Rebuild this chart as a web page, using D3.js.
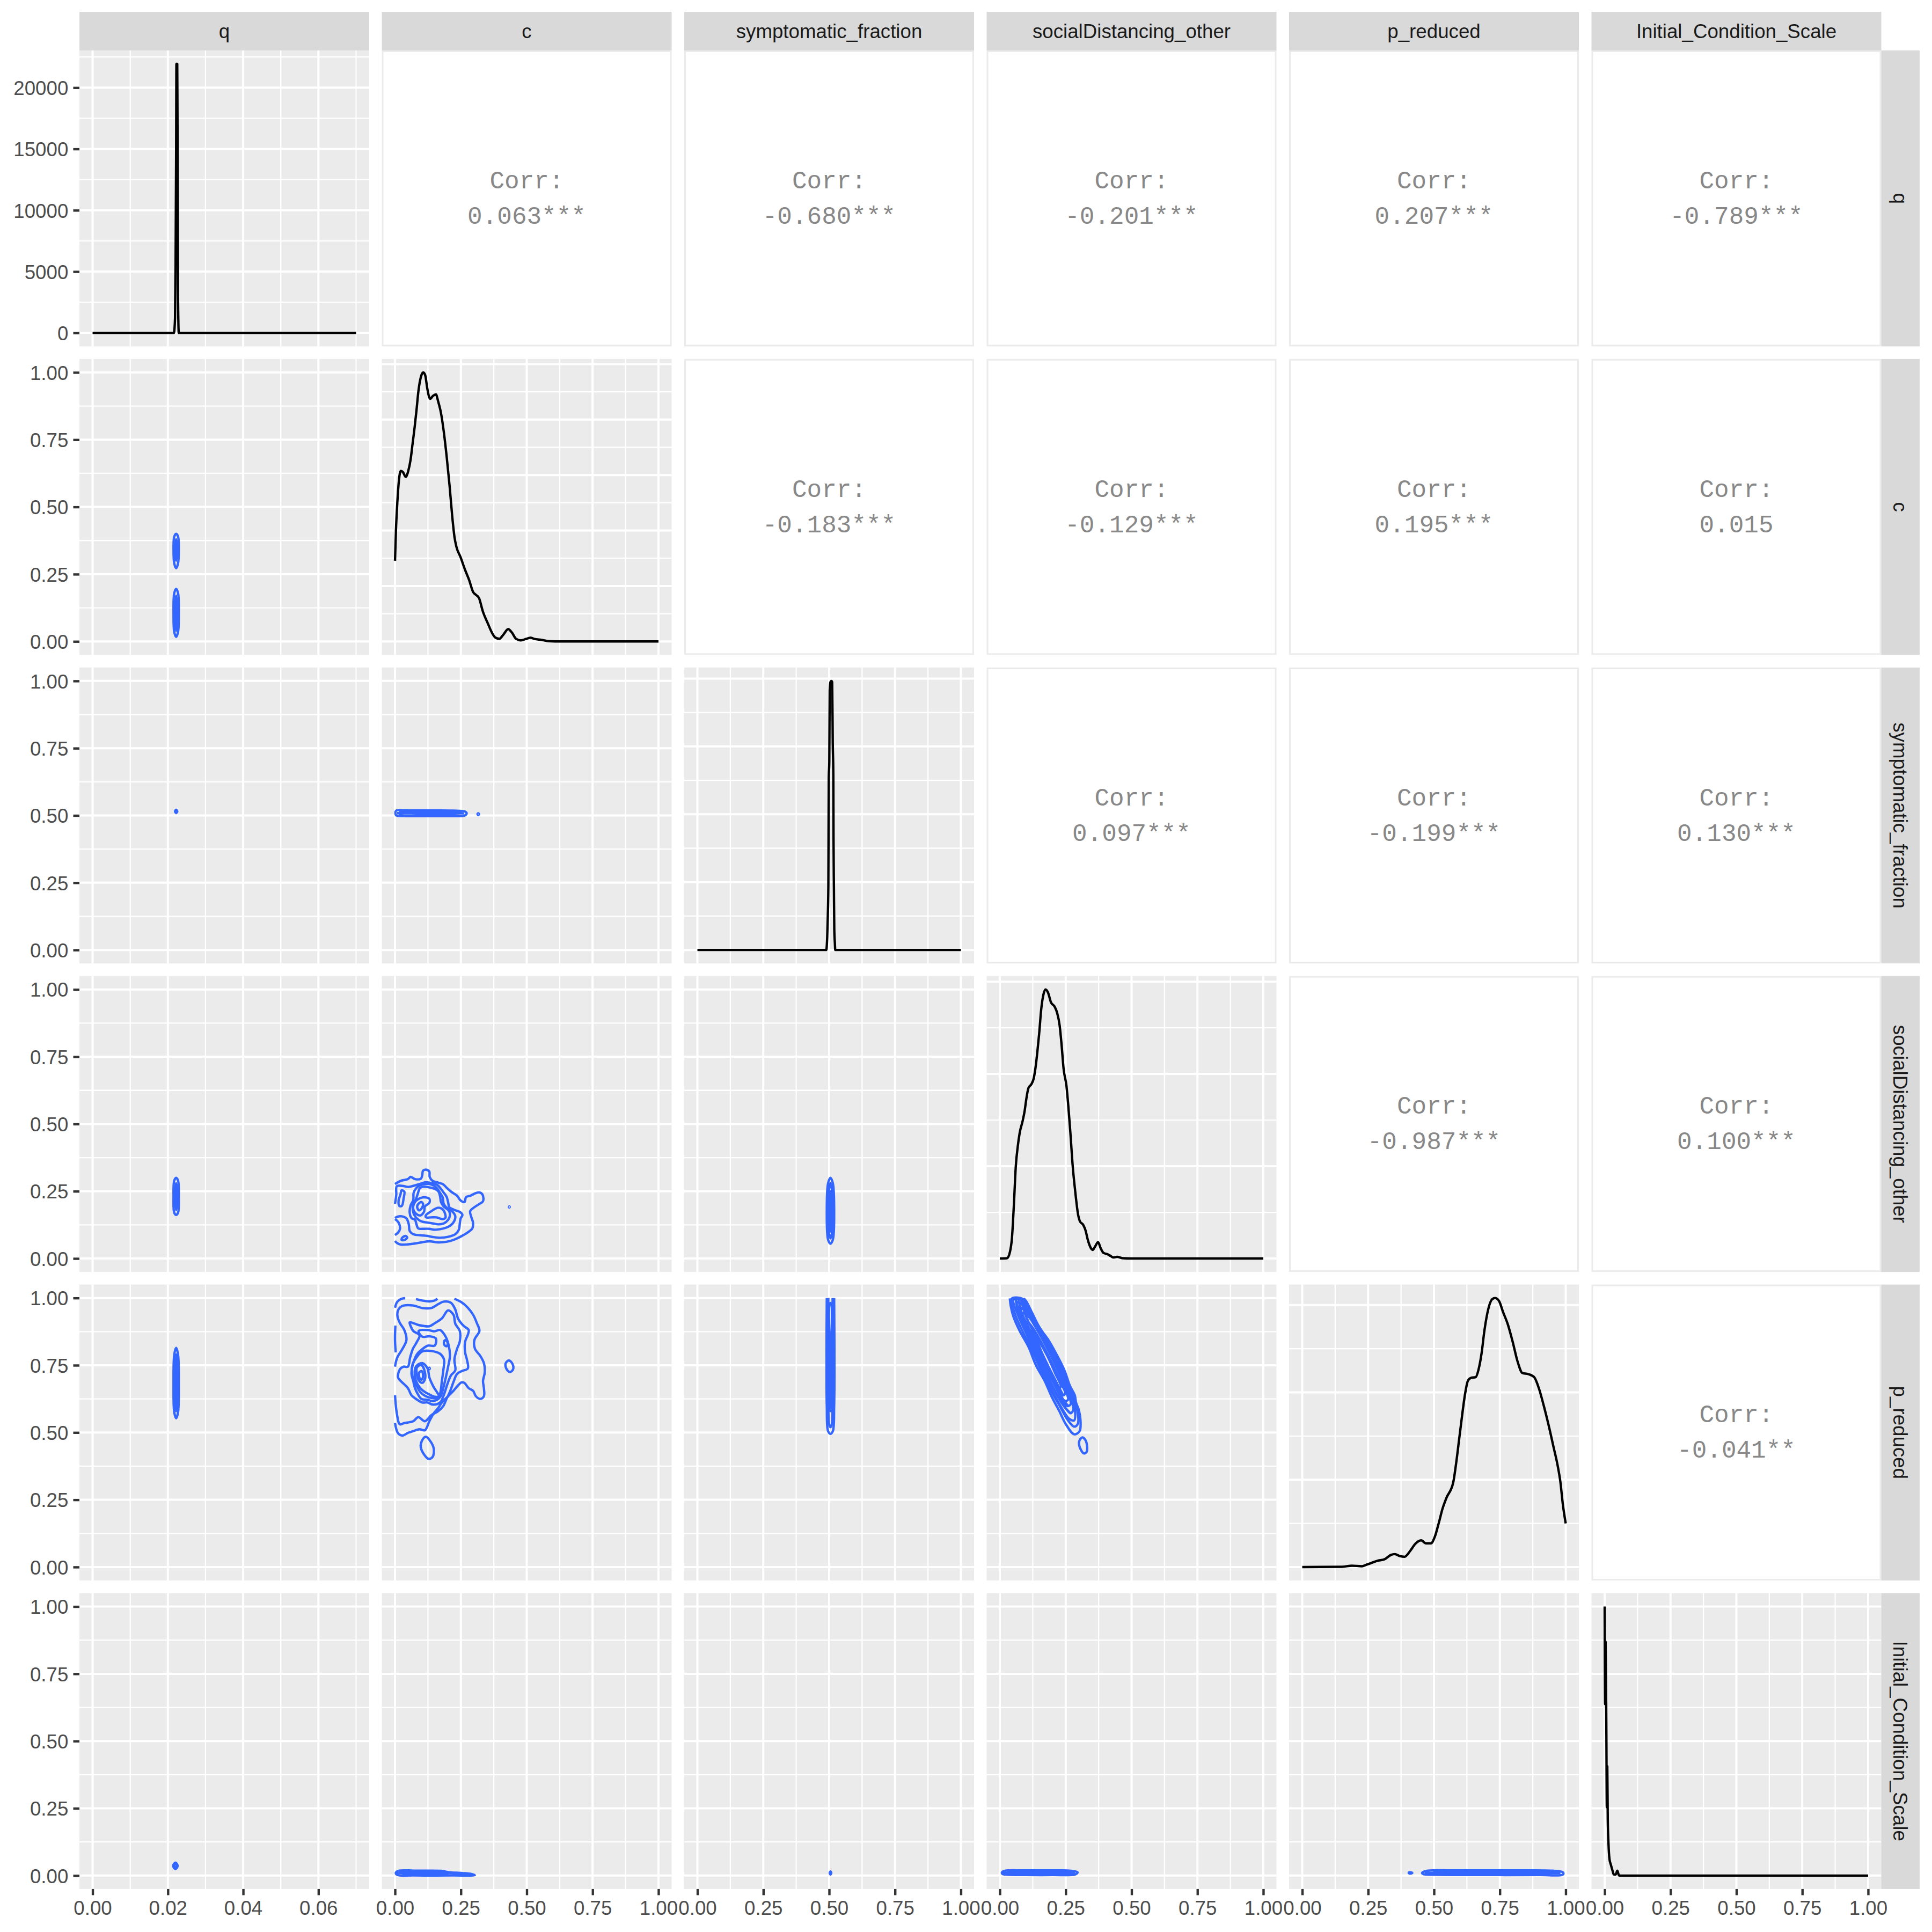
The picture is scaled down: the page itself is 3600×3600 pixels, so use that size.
<!DOCTYPE html>
<html><head><meta charset="utf-8">
<script src="https://cdn.jsdelivr.net/npm/d3@7"></script>
<style>body{margin:0;background:#fff}</style>
</head><body>
<script>
// ---------------- DATA ----------------
const variables = ["q","c","symptomatic_fraction","socialDistancing_other","p_reduced","Initial_Condition_Scale"];
const xDomains = [[0,0.07],[0,1],[0,1],[0,1],[0,1],[0,1]];
const xBreaks = [[0,0.02,0.04,0.06],[0,0.25,0.5,0.75,1],[0,0.25,0.5,0.75,1],[0,0.25,0.5,0.75,1],[0,0.25,0.5,0.75,1],[0,0.25,0.5,0.75,1]];
const xTickLabels = [["0.00","0.02","0.04","0.06"],["0.00","0.25","0.50","0.75","1.00"],["0.00","0.25","0.50","0.75","1.00"],["0.00","0.25","0.50","0.75","1.00"],["0.00","0.25","0.50","0.75","1.00"],["0.00","0.25","0.50","0.75","1.00"]];
const row1TickValues = [0,5000,10000,15000,20000];
const row1TickLabels = ["0","5000","10000","15000","20000"];

// diagonal density: maximum and own y breaks
const diagMax = [21936, 4.85, 79.3, 5.83, 3.08, 40];
const diagBreaks = [[0,5000,10000,15000,20000],[0,1,2,3,4,5],[0,20,40,60,80],[0,2,4,6],[0,1,2,3],[0,10,20,30,40]];

// q density (absolute)
const densQx = [0,0.0216,0.0219,0.02205,0.0222,0.02227,0.02249,0.02255,0.02263,0.0227,0.0229,0.07];
const densQy = [0,0,1171,5670,15000,21936,21936,18000,11140,3000,0,0];
// other densities (relative to max)
const densCx = [0,.0037,.0089,.0148,.0222,.0296,.0407,.0504,.0593,.0667,.0741,.0815,.0889,.1,.1074,.1148,.1222,.1333,.1444,.1556,.1630,.1741,.1852,.1963,.2074,.2170,.2259,.2333,.2481,.2667,.2815,.2963,.3074,.3185,.3333,.3519,.3704,.3815,.3963,.4111,.4296,.4444,.4593,.4778,.4963,.5148,.5296,.5556,.5852,.6296,1.0];
const densCh = [.300,.416,.518,.598,.634,.630,.612,.634,.677,.735,.793,.859,.931,.989,1.0,.989,.942,.902,.913,.918,.895,.851,.779,.685,.576,.467,.387,.351,.315,.264,.228,.184,.173,.162,.112,.068,.028,.014,.010,.025,.046,.032,.010,.004,.009,.014,.009,.006,.001,0,0];
const densSx = [0,.4890,.4926,.4948,.4970,.4985,.5006,.5021,.5050,.5086,.5115,.5137,.5159,.5166,.5181,.5195,.5217,.5232,1];
const densSh = [0,0,.048,.122,.24,.64,.70,.965,.996,1,.996,.77,.65,.42,.23,.076,.026,0,0];
const densSDx = [0,.0274,.0385,.0459,.0533,.0607,.0680,.0754,.0865,.0939,.1013,.1087,.1198,.1287,.1361,.1420,.1494,.1568,.1657,.1731,.1827,.1938,.2086,.2175,.2271,.2345,.2419,.2530,.2604,.2678,.2766,.2862,.2973,.3047,.3158,.3254,.3343,.3454,.3528,.3624,.3728,.3824,.3935,.4083,.4194,.4305,.4453,.4675,.4970,1];
const densSDh = [0,.001,.025,.075,.199,.344,.416,.467,.511,.547,.598,.634,.648,.670,.714,.764,.837,.924,.982,1.0,.989,.953,.935,.913,.866,.793,.706,.641,.561,.467,.344,.249,.162,.137,.126,.104,.068,.039,.032,.046,.061,.039,.021,.016,.010,.004,.006,.001,0,0];
const densPx = [0,.1516,.1886,.2256,.2478,.2848,.3144,.3365,.3513,.3698,.3883,.4105,.4290,.4512,.4697,.4882,.5030,.5178,.5325,.5473,.5732,.5843,.5954,.6065,.6176,.6287,.6398,.6583,.6694,.6805,.6916,.7064,.7212,.7322,.7470,.7618,.7803,.7988,.8173,.8358,.8580,.8802,.8987,.9172,.9357,.9541,.9689,.9800,.9889,1.0];
const densPh = [0,.001,.005,.003,.010,.023,.030,.045,.048,.041,.038,.061,.086,.099,.088,.088,.112,.162,.217,.257,.315,.387,.474,.561,.641,.692,.703,.706,.735,.793,.880,.960,.996,1.0,.989,.949,.902,.837,.764,.721,.717,.706,.663,.598,.525,.445,.380,.315,.235,.162];
const densIx = [0,.0018,.0036,.0064,.0082,.0100,.0118,.0145,.0182,.0236,.0300,.0345,.0418,.0482,.0545,1];
const densIh = [1.0,.637,.869,.548,.254,.406,.209,.120,.062,.040,.018,.004,.004,.018,0,0];

// correlations (upper panels)
const corrRows = [0,0,0,0,0,1,1,1,1,2,2,2,3,3,4];
const corrCols = [1,2,3,4,5,2,3,4,5,3,4,5,4,5,5];
const corrText = ["0.063***","-0.680***","-0.201***","0.207***","-0.789***","-0.183***","-0.129***","0.195***","0.015","0.097***","-0.199***","0.130***","-0.987***","0.100***","-0.041**"];

// 2-D density contours (lower panels), [x, y] in data units; c = closed ring
const contQC = [
 {c:true, p:[[0.0222,0.40],[0.0227,0.39],[0.0229,0.34],[0.0227,0.29],[0.0222,0.272],[0.0217,0.29],[0.0215,0.34],[0.0217,0.39]]},
 {c:true, p:[[0.0222,0.38],[0.0224,0.36],[0.0224,0.32],[0.0222,0.30],[0.0220,0.32],[0.0220,0.36]]},
 {c:true, p:[[0.0222,0.195],[0.0227,0.18],[0.0229,0.10],[0.0227,0.035],[0.0222,0.017],[0.0217,0.035],[0.0215,0.10],[0.0217,0.18]]},
 {c:true, p:[[0.0222,0.17],[0.0224,0.14],[0.0224,0.06],[0.0222,0.04],[0.0220,0.06],[0.0220,0.14]]}
];
const contQS = [
 {c:true, p:[[0.0222,0.521],[0.0225,0.515],[0.0222,0.509],[0.0219,0.515]]}
];
const contCS = [
 {c:true, p:[[0.004,0.5175],[0.05,0.5185],[0.15,0.5185],[0.22,0.518],[0.265,0.515],[0.272,0.508],[0.265,0.5],[0.2,0.4975],[0.1,0.4975],[0.03,0.498],[0.004,0.501]]},
 {c:true, p:[[0.02,0.514],[0.1,0.515],[0.2,0.514],[0.25,0.511],[0.2,0.502],[0.1,0.501],[0.02,0.503]]},
 {c:false, p:[[0.008,0.5085],[0.1,0.5085],[0.2,0.508],[0.262,0.508]]},
 {c:true, p:[[0.316,0.508],[0.319,0.505],[0.316,0.502],[0.313,0.505]]}
];
const contQSD = [
 {c:true, p:[[0.0222,0.30],[0.0227,0.29],[0.0229,0.23],[0.0227,0.17],[0.0222,0.162],[0.0217,0.17],[0.0215,0.23],[0.0217,0.29]]},
 {c:true, p:[[0.0222,0.28],[0.0224,0.26],[0.0224,0.20],[0.0222,0.18],[0.0220,0.20],[0.0220,0.26]]}
];
const contCSD = [
 {c:false, p:[[0,0.2766],[0.0217,0.2886],[0.0489,0.2952],[0.0591,0.3032],[0.0760,0.2952],[0.0978,0.2965],[0.1032,0.3085],[0.1066,0.3265],[0.1202,0.3298],[0.1303,0.3231],[0.1317,0.3032],[0.1426,0.2886],[0.1643,0.2819],[0.1833,0.2753],[0.1969,0.2620],[0.2152,0.2467],[0.2356,0.2334],[0.2492,0.2154],[0.2641,0.2101],[0.2695,0.2281],[0.2865,0.2334],[0.3069,0.2434],[0.3218,0.2453],[0.3327,0.2367],[0.3340,0.2128],[0.3191,0.2021],[0.2987,0.1888],[0.2851,0.1755],[0.2892,0.1556],[0.2960,0.1336],[0.2933,0.1117],[0.2743,0.0957],[0.2512,0.0824],[0.2254,0.0705],[0.1982,0.0625],[0.1643,0.0598],[0.1303,0.0638],[0.1032,0.0605],[0.0760,0.0559],[0.0489,0.0525],[0.0217,0.0519],[0.0081,0.0572],[0,0.0652]]},
 {c:false, p:[[0,0.2035],[0.0048,0.2367],[0.0068,0.2686],[0.0285,0.2699],[0.0489,0.2660],[0.0692,0.2699],[0.0930,0.2766],[0.1134,0.2832],[0.1337,0.2812],[0.1609,0.2733],[0.1745,0.2580],[0.1860,0.2434],[0.1962,0.2287],[0.2016,0.2088],[0.2064,0.1902],[0.2267,0.1802],[0.2458,0.1735],[0.2559,0.1622],[0.2492,0.1489],[0.2458,0.1290],[0.2424,0.1070],[0.2288,0.0904],[0.2016,0.0805],[0.1711,0.0771],[0.1439,0.0798],[0.1236,0.0838],[0.0964,0.0864],[0.0692,0.0904],[0.0557,0.1024],[0.0523,0.1270],[0.0434,0.1489],[0.0251,0.1569],[0.0095,0.1556],[0,0.1503]]},
 {c:false, p:[[0,0.1469],[0.0136,0.1336],[0.0190,0.1104],[0.0122,0.0971],[0,0.0871]]},
 {c:true, p:[[0.0930,0.2713],[0.1303,0.2766],[0.1575,0.2633],[0.1711,0.2434],[0.1813,0.2267],[0.1847,0.2035],[0.1982,0.1868],[0.2186,0.1735],[0.2288,0.1569],[0.2254,0.1403],[0.2118,0.1237],[0.1915,0.1137],[0.1711,0.1090],[0.1507,0.1070],[0.1303,0.1104],[0.1100,0.1104],[0.0883,0.1117],[0.0815,0.1270],[0.0760,0.1436],[0.0625,0.1503],[0.0557,0.1702],[0.0591,0.1968],[0.0692,0.2168],[0.0706,0.2434],[0.0794,0.2600]]},
 {c:true, p:[[0.0964,0.2633],[0.1371,0.2633],[0.1643,0.2500],[0.1711,0.2301],[0.1745,0.2101],[0.1847,0.1935],[0.2050,0.1769],[0.2084,0.1602],[0.2016,0.1436],[0.1847,0.1303],[0.1643,0.1270],[0.1439,0.1303],[0.1236,0.1336],[0.1032,0.1370],[0.0896,0.1436],[0.0760,0.1569],[0.0679,0.1769],[0.0692,0.2001],[0.0794,0.2201],[0.0862,0.2400]]},
 {c:true, p:[[0.0760,0.2101],[0.1032,0.2267],[0.1303,0.2221],[0.1303,0.2068],[0.1134,0.1935],[0.1100,0.1735],[0.0964,0.1602],[0.0794,0.1669],[0.0692,0.1835]]},
 {c:true, p:[[0.0862,0.2001],[0.0998,0.2101],[0.1066,0.2021],[0.1012,0.1868],[0.0910,0.1789],[0.0842,0.1902]]},
 {c:true, p:[[0.1168,0.1602],[0.1371,0.1755],[0.1643,0.1888],[0.1833,0.1802],[0.1915,0.1516],[0.1792,0.1463],[0.1575,0.1529],[0.1371,0.1529],[0.1181,0.1529]]},
 {c:true, p:[[0.0251,0.2533],[0.0353,0.2487],[0.0326,0.2234],[0.0258,0.1955],[0.0163,0.1955],[0.0136,0.2154],[0.0204,0.2367]]},
 {c:true, p:[[0.0272,0.0771],[0.0407,0.0838],[0.0462,0.0771],[0.0353,0.0685],[0.0251,0.0691]]},
 {c:true, p:[[0.4338,0.1935],[0.4355,0.1915],[0.4338,0.1895],[0.4321,0.1915]]}
];
const contSSD = [
 {c:true, p:[[0.505,0.30],[0.514,0.28],[0.519,0.18],[0.514,0.07],[0.505,0.055],[0.496,0.07],[0.491,0.18],[0.496,0.28]]},
 {c:true, p:[[0.505,0.28],[0.510,0.26],[0.513,0.18],[0.510,0.09],[0.505,0.075],[0.500,0.09],[0.497,0.18],[0.500,0.26]]},
 {c:true, p:[[0.505,0.25],[0.507,0.20],[0.507,0.12],[0.505,0.10],[0.503,0.12],[0.503,0.20]]}
];
const contQP = [
 {c:true, p:[[0.0222,0.815],[0.0227,0.79],[0.0229,0.68],[0.0227,0.575],[0.0222,0.553],[0.0217,0.575],[0.0215,0.68],[0.0217,0.79]]},
 {c:true, p:[[0.0222,0.79],[0.0224,0.75],[0.0224,0.61],[0.0222,0.58],[0.0220,0.61],[0.0220,0.75]]}
];
const contCP = [
 {c:false, p:[[0.2254,0.9973],[0.2525,0.9840],[0.2763,0.9641],[0.2967,0.9375],[0.3103,0.9076],[0.3204,0.8777],[0.3014,0.8444],[0.3035,0.8112],[0.3238,0.7846],[0.3374,0.7580],[0.3408,0.7247],[0.3340,0.6915],[0.3374,0.6649],[0.3374,0.6350],[0.3238,0.6250],[0.3069,0.6350],[0.2967,0.6549],[0.2797,0.6649],[0.2627,0.6848],[0.2525,0.6862],[0.2390,0.6749],[0.2186,0.6516],[0.1982,0.6316],[0.1779,0.6117],[0.1643,0.5918],[0.1473,0.5718],[0.1303,0.5419],[0.1134,0.5086],[0.0930,0.5120],[0.0692,0.5053],[0.0489,0.4987],[0.0285,0.4887],[0.0115,0.4973],[0,0.5352]]},
 {c:false, p:[[0,0.9641],[0.0081,0.9854],[0.0217,0.9960],[0.0387,0.9993]]},
 {c:false, p:[[0.0794,0.9960],[0.1032,0.9907],[0.1303,0.9874],[0.1507,0.9907],[0.1609,0.9973]]},
 {c:false, p:[[0,0.7447],[0.0081,0.7779],[0.0285,0.8112],[0.0434,0.8444],[0.0353,0.8810],[0.0183,0.9076],[0.0095,0.9309],[0.0115,0.9541],[0.0285,0.9707],[0.0692,0.9721],[0.1032,0.9628],[0.1371,0.9628],[0.1643,0.9774],[0.1847,0.9867],[0.2118,0.9827],[0.2288,0.9574],[0.2390,0.9242],[0.2593,0.8976],[0.2797,0.8810],[0.2763,0.8630],[0.2661,0.8378],[0.2661,0.7979],[0.2729,0.7713],[0.2763,0.7380],[0.2525,0.7281],[0.2356,0.7181],[0.2220,0.6882],[0.2084,0.6516],[0.1948,0.6237],[0.1833,0.5984],[0.1643,0.5798],[0.1371,0.5638],[0.1134,0.5419],[0.0883,0.5572],[0.0692,0.5419],[0.0353,0.5352],[0.0183,0.5306],[0.0068,0.5718],[0,0.6383]]},
 {c:true, p:[[0.0557,0.9096],[0.0896,0.8996],[0.1303,0.8950],[0.1507,0.9063],[0.1779,0.9242],[0.2016,0.9541],[0.2220,0.9375],[0.2288,0.9043],[0.2458,0.8777],[0.2458,0.8378],[0.2356,0.8112],[0.2254,0.7713],[0.2288,0.7314],[0.2118,0.7114],[0.1982,0.6782],[0.1847,0.6383],[0.1711,0.6117],[0.1439,0.6037],[0.1236,0.6117],[0.1032,0.6117],[0.0794,0.6250],[0.0625,0.6383],[0.0489,0.6649],[0.0217,0.6915],[0.0115,0.7048],[0.0183,0.7347],[0.0319,0.7447],[0.0489,0.7447],[0.0570,0.7779],[0.0679,0.8112],[0.0815,0.8344],[0.0930,0.8610],[0.0692,0.8777],[0.0591,0.8963]]},
 {c:true, p:[[0.0896,0.8777],[0.1236,0.8810],[0.1507,0.8763],[0.1711,0.8810],[0.1915,0.8577],[0.2037,0.8245],[0.2084,0.7846],[0.2016,0.7447],[0.1928,0.7048],[0.1847,0.6715],[0.1711,0.6316],[0.1453,0.6170],[0.1236,0.6217],[0.0998,0.6250],[0.0862,0.6436],[0.0760,0.6649],[0.0692,0.6915],[0.0625,0.7181],[0.0692,0.7580],[0.0828,0.7899],[0.1032,0.8098],[0.1249,0.8231],[0.1507,0.8231],[0.1548,0.8497],[0.1303,0.8577],[0.1032,0.8564]]},
 {c:true, p:[[0.0760,0.7713],[0.1032,0.8012],[0.1371,0.8032],[0.1711,0.7926],[0.1860,0.7713],[0.1833,0.7314],[0.1779,0.6915],[0.1711,0.6449],[0.1609,0.6290],[0.1405,0.6280],[0.1168,0.6350],[0.0964,0.6500],[0.0828,0.6716],[0.0706,0.6950],[0.0638,0.7247],[0.0659,0.7513]]},
 {c:true, p:[[0.0794,0.7447],[0.1032,0.7580],[0.1236,0.7380],[0.1303,0.7048],[0.1453,0.6715],[0.1657,0.6350],[0.1507,0.6330],[0.1236,0.6450],[0.1032,0.6580],[0.0862,0.6782],[0.0760,0.7048]]},
 {c:true, p:[[0.0828,0.7414],[0.0998,0.7513],[0.1134,0.7247],[0.1134,0.6981],[0.1032,0.6848],[0.0896,0.6948],[0.0828,0.7181]]},
 {c:true, p:[[0.0930,0.7247],[0.1018,0.7281],[0.1066,0.7114],[0.1018,0.6968],[0.0937,0.7015],[0.0910,0.7128]]},
 {c:true, p:[[0.1915,0.8431],[0.1996,0.8344],[0.1969,0.8211],[0.1881,0.8245],[0.1860,0.8378]]},
 {c:true, p:[[0.1303,0.7410],[0.1320,0.7380],[0.1303,0.7350],[0.1286,0.7380]]},
 {c:true, p:[[0.4325,0.7680],[0.4460,0.7547],[0.4481,0.7347],[0.4358,0.7247],[0.4223,0.7380],[0.4203,0.7580]]},
 {c:true, p:[[0.1168,0.4840],[0.1358,0.4654],[0.1473,0.4388],[0.1426,0.4089],[0.1270,0.4023],[0.1100,0.4189],[0.0978,0.4455],[0.1018,0.4687]]},
 {c:false, p:[[0.0014,0.8976],[0,0.8444],[0.0027,0.7979]]}
];
const contSP = [
 {c:false, p:[[0.491,1.0],[0.490,0.8],[0.491,0.6],[0.496,0.505],[0.505,0.495],[0.514,0.505],[0.519,0.6],[0.520,0.8],[0.519,1.0]]},
 {c:false, p:[[0.497,1.0],[0.496,0.8],[0.497,0.6],[0.500,0.53],[0.505,0.52],[0.510,0.53],[0.513,0.6],[0.514,0.8],[0.513,1.0]]},
 {c:true, p:[[0.503,0.98],[0.502,0.8],[0.503,0.62],[0.505,0.58],[0.507,0.62],[0.508,0.8],[0.507,0.98]]}
];
const contSDP = [
 {c:false, p:[[0.0380,0.9987],[0.0414,0.9707],[0.0516,0.9309],[0.0754,0.8777],[0.1093,0.8178],[0.1365,0.7513],[0.1704,0.6915],[0.1976,0.6316],[0.2247,0.5818],[0.2519,0.5286],[0.2824,0.4934],[0.3028,0.5053],[0.3062,0.5452],[0.2994,0.5851],[0.2892,0.6117],[0.2845,0.6383],[0.2655,0.6749],[0.2451,0.7314],[0.2111,0.7979],[0.1840,0.8444],[0.1500,0.8910],[0.1229,0.9441],[0.0991,0.9894],[0.0903,0.9987]]},
 {c:true, p:[[0.0448,0.9973],[0.0584,0.9375],[0.0889,0.8710],[0.1195,0.8112],[0.1466,0.7513],[0.1772,0.6915],[0.2043,0.6383],[0.2315,0.5918],[0.2587,0.5452],[0.2824,0.5219],[0.2960,0.5319],[0.2960,0.5718],[0.2845,0.6117],[0.2722,0.6516],[0.2519,0.7048],[0.2247,0.7646],[0.1976,0.8178],[0.1636,0.8710],[0.1297,0.9242],[0.1025,0.9774],[0.0855,0.9973]]},
 {c:true, p:[[0.0516,0.9940],[0.0686,0.9375],[0.0991,0.8710],[0.1297,0.8045],[0.1568,0.7447],[0.1840,0.6848],[0.2111,0.6316],[0.2383,0.5851],[0.2621,0.5519],[0.2824,0.5452],[0.2858,0.5785],[0.2790,0.6117],[0.2654,0.6516],[0.2451,0.7048],[0.2179,0.7646],[0.1874,0.8245],[0.1534,0.8777],[0.1195,0.9309],[0.0923,0.9807],[0.0788,0.9940]]},
 {c:true, p:[[0.0652,0.9840],[0.0821,0.9309],[0.1093,0.8710],[0.1399,0.8045],[0.1670,0.7447],[0.1942,0.6848],[0.2213,0.6316],[0.2485,0.5918],[0.2688,0.5718],[0.2790,0.5851],[0.2722,0.6184],[0.2553,0.6649],[0.2315,0.7247],[0.2043,0.7846],[0.1738,0.8444],[0.1399,0.8976],[0.1059,0.9508],[0.0788,0.9807]]},
 {c:true, p:[[0.0754,0.9641],[0.0923,0.9176],[0.1195,0.8644],[0.1500,0.7979],[0.1772,0.7380],[0.2043,0.6848],[0.2315,0.6316],[0.2553,0.5984],[0.2688,0.6051],[0.2621,0.6383],[0.2451,0.6782],[0.2213,0.7314],[0.1942,0.7912],[0.1636,0.8511],[0.1297,0.9043],[0.0991,0.9508]]},
 {c:true, p:[[0.0855,0.9441],[0.1059,0.8976],[0.1331,0.8444],[0.1636,0.7779],[0.1908,0.7181],[0.2179,0.6649],[0.2451,0.6184],[0.2587,0.6217],[0.2519,0.6516],[0.2315,0.7048],[0.2043,0.7646],[0.1738,0.8245],[0.1399,0.8843],[0.1093,0.9309]]},
 {c:true, p:[[0.0991,0.9109],[0.1229,0.8644],[0.1534,0.7979],[0.1840,0.7380],[0.2111,0.6848],[0.2383,0.6383],[0.2485,0.6449],[0.2315,0.6848],[0.2043,0.7447],[0.1704,0.8112],[0.1365,0.8710],[0.1127,0.9043]]},
 {c:true, p:[[0.1161,0.8777],[0.1432,0.8245],[0.1704,0.7646],[0.1976,0.7114],[0.2247,0.6649],[0.2315,0.6715],[0.2111,0.7181],[0.1806,0.7846],[0.1500,0.8378],[0.1263,0.8710]]},
 {c:false, p:[[0.060,0.995],[0.075,0.93],[0.105,0.87],[0.135,0.80],[0.165,0.74],[0.190,0.69],[0.220,0.635],[0.250,0.590],[0.270,0.570]]},
 {c:false, p:[[0.070,0.995],[0.088,0.93],[0.118,0.87],[0.147,0.80],[0.176,0.74],[0.202,0.69],[0.232,0.635],[0.258,0.600]]},
 {c:false, p:[[0.080,0.995],[0.100,0.93],[0.130,0.87],[0.158,0.80],[0.187,0.74],[0.213,0.69],[0.242,0.635]]},
 {c:true, p:[[0.3130,0.4820],[0.3266,0.4688],[0.3299,0.4289],[0.3198,0.4222],[0.3062,0.4388],[0.3008,0.4654]]}
];
const contQI = [
 {c:true, p:[[0.0220,0.048],[0.0226,0.036],[0.0220,0.024],[0.0214,0.036]]},
 {c:true, p:[[0.0220,0.040],[0.0222,0.036],[0.0220,0.032],[0.0218,0.036]]}
];
const contCI = [
 {c:true, p:[[0.003,0.010],[0.013,0.0175],[0.09,0.018],[0.175,0.0175],[0.205,0.0125],[0.255,0.0095],[0.29,0.006],[0.303,0.0015],[0.22,0.0005],[0.07,0.0005],[0.01,0.002]]},
 {c:true, p:[[0.02,0.012],[0.1,0.013],[0.17,0.012],[0.2,0.008],[0.15,0.005],[0.05,0.005]]},
 {c:false, p:[[0.006,0.009],[0.1,0.009],[0.2,0.009],[0.27,0.005]]}
];
const contSI = [
 {c:true, p:[[0.505,0.015],[0.508,0.0096],[0.505,0.004],[0.502,0.0096]]}
];
const contSDI = [
 {c:true, p:[[0.008,0.012],[0.02,0.018],[0.1,0.019],[0.2,0.019],[0.27,0.018],[0.295,0.012],[0.285,0.004],[0.2,0.002],[0.1,0.002],[0.03,0.003],[0.01,0.006]]},
 {c:true, p:[[0.03,0.012],[0.1,0.014],[0.2,0.014],[0.27,0.011],[0.2,0.007],[0.1,0.007],[0.04,0.008]]},
 {c:false, p:[[0.012,0.0095],[0.1,0.0105],[0.2,0.0105],[0.285,0.009]]}
];
const contPI = [
 {c:true, p:[[0.455,0.010],[0.47,0.017],[0.6,0.019],[0.8,0.019],[0.95,0.018],[0.99,0.012],[0.99,0.004],[0.9,0.002],[0.7,0.002],[0.5,0.003],[0.46,0.005]]},
 {c:true, p:[[0.5,0.012],[0.7,0.014],[0.9,0.014],[0.97,0.011],[0.9,0.007],[0.7,0.007],[0.52,0.008]]},
 {c:false, p:[[0.465,0.0095],[0.6,0.0105],[0.8,0.0105],[0.98,0.009]]},
 {c:true, p:[[0.41,0.012],[0.418,0.010],[0.41,0.007],[0.404,0.010]]}
];

// ---------------- LAYOUT ----------------
const PW = 540, PH = 551.4, GX = 23.5, GY = 23.5, LEFT = 148, TOP = 94;
const STRIP = 71.5;
const colLeft = j => LEFT + j * (PW + GX);
const rowTop = i => TOP + i * (PH + GY);
const SANS = "'Liberation Sans', Arial, Helvetica, sans-serif";
const MONO = "'Liberation Mono', 'Courier New', monospace";
const AXFS = 36.7;

const diagData = [
  {x: densQx, y: densQy, rel: false},
  {x: densCx, y: densCh, rel: true},
  {x: densSx, y: densSh, rel: true},
  {x: densSDx, y: densSDh, rel: true},
  {x: densPx, y: densPh, rel: true},
  {x: densIx, y: densIh, rel: true}
];
const lowerMap = {"1_0": contQC, "2_0": contQS, "2_1": contCS, "3_0": contQSD, "3_1": contCSD, "3_2": contSSD,
  "4_0": contQP, "4_1": contCP, "4_2": contSP, "4_3": contSDP,
  "5_0": contQI, "5_1": contCI, "5_2": contSI, "5_3": contSDI, "5_4": contPI};

const svg = d3.select("body").append("svg").attr("width", 3600).attr("height", 3600)
  .attr("viewBox", "0 0 3600 3600");
svg.append("rect").attr("width", 3600).attr("height", 3600).attr("fill", "#fff");
const defs = svg.append("defs");

function expanded(d) { const s = d[1] - d[0]; return [d[0] - 0.05 * s, d[1] + 0.05 * s]; }
function xScale(j) { return d3.scaleLinear().domain(expanded(xDomains[j])).range([colLeft(j), colLeft(j) + PW]); }
function yScaleVar(i) { return d3.scaleLinear().domain(expanded(xDomains[i])).range([rowTop(i) + PH, rowTop(i)]); }
function yScaleDiag(i) { return d3.scaleLinear().domain(expanded([0, diagMax[i]])).range([rowTop(i) + PH, rowTop(i)]); }
function minors(maj, dom) {
  const step = maj[1] - maj[0], out = [];
  out.push(maj[0] - step / 2);
  for (let k = 0; k < maj.length - 1; k++) out.push((maj[k] + maj[k + 1]) / 2);
  out.push(maj[maj.length - 1] + step / 2);
  return out.filter(v => v >= dom[0] && v <= dom[1]);
}

for (let i = 0; i < 6; i++) {
  for (let j = 0; j < 6; j++) {
    const x0 = colLeft(j), y0 = rowTop(i);
    const g = svg.append("g");
    if (i < j) {
      g.append("rect").attr("x", x0 + 1.5).attr("y", y0 + 1.5).attr("width", PW - 3).attr("height", PH - 3)
        .attr("fill", "#fff").attr("stroke", "#EBEBEB").attr("stroke-width", 3);
      continue;
    }
    const xs = xScale(j);
    const ys = (i === j) ? yScaleDiag(i) : yScaleVar(i);
    const yMaj = (i === j) ? diagBreaks[i] : xBreaks[i];
    g.append("rect").attr("x", x0).attr("y", y0).attr("width", PW).attr("height", PH).attr("fill", "#EBEBEB");
    const xMin = minors(xBreaks[j], xs.domain()), yMin = minors(yMaj, ys.domain());
    g.selectAll(".vmin").data(xMin).enter().append("line")
      .attr("x1", d => xs(d)).attr("x2", d => xs(d)).attr("y1", y0).attr("y2", y0 + PH)
      .attr("stroke", "#fff").attr("stroke-width", 2.3);
    g.selectAll(".hmin").data(yMin).enter().append("line")
      .attr("y1", d => ys(d)).attr("y2", d => ys(d)).attr("x1", x0).attr("x2", x0 + PW)
      .attr("stroke", "#fff").attr("stroke-width", 2.3);
    g.selectAll(".vmaj").data(xBreaks[j]).enter().append("line")
      .attr("x1", d => xs(d)).attr("x2", d => xs(d)).attr("y1", y0).attr("y2", y0 + PH)
      .attr("stroke", "#fff").attr("stroke-width", 4);
    g.selectAll(".hmaj").data(yMaj).enter().append("line")
      .attr("y1", d => ys(d)).attr("y2", d => ys(d)).attr("x1", x0).attr("x2", x0 + PW)
      .attr("stroke", "#fff").attr("stroke-width", 4);

    const cid = `clip_${i}_${j}`;
    defs.append("clipPath").attr("id", cid).append("rect")
      .attr("x", x0).attr("y", y0).attr("width", PW).attr("height", PH);
    const dg = g.append("g").attr("clip-path", `url(#${cid})`);

    if (i === j) {
      const dd = diagData[i];
      const pts = dd.x.map((xv, k) => [xv, dd.rel ? dd.y[k] * diagMax[i] : dd.y[k]]);
      dg.append("path").datum(pts)
        .attr("d", d3.line().x(d => xs(d[0])).y(d => ys(d[1])).curve(d3.curveMonotoneX))
        .attr("fill", "none").attr("stroke", "#000").attr("stroke-width", 4.4)
        .attr("stroke-linejoin", "round");
    } else {
      const rings = lowerMap[`${i}_${j}`] || [];
      rings.forEach(r => {
        const ln = d3.line().x(d => xs(d[0])).y(d => ys(d[1]))
          .curve(r.c ? d3.curveCatmullRomClosed.alpha(0.5) : d3.curveCatmullRom.alpha(0.5));
        dg.append("path").datum(r.p).attr("d", ln)
          .attr("fill", "none").attr("stroke", "#3366FF").attr("stroke-width", 4.4)
          .attr("stroke-linejoin", "round").attr("stroke-linecap", "butt");
      });
    }
  }
}

// correlation texts
corrText.forEach((t, k) => {
  const i = corrRows[k], j = corrCols[k];
  const cx = colLeft(j) + PW / 2, cy = rowTop(i) + PH / 2;
  const tg = svg.append("g").attr("font-family", MONO).attr("font-size", 46).attr("fill", "#888888")
    .attr("text-anchor", "middle");
  tg.append("text").attr("x", cx).attr("y", cy - 19).text("Corr:");
  tg.append("text").attr("x", cx).attr("y", cy + 47).text(t);
});

// strips
for (let j = 0; j < 6; j++) {
  svg.append("rect").attr("x", colLeft(j)).attr("y", TOP - 72).attr("width", PW).attr("height", 72).attr("fill", "#D9D9D9");
  svg.append("text").attr("x", colLeft(j) + PW / 2).attr("y", TOP - 36).attr("dy", "0.36em")
    .attr("text-anchor", "middle").attr("font-family", SANS).attr("font-size", AXFS).attr("fill", "#1A1A1A")
    .text(variables[j]);
}
for (let i = 0; i < 6; i++) {
  const sx = colLeft(5) + PW;
  svg.append("rect").attr("x", sx).attr("y", rowTop(i)).attr("width", STRIP).attr("height", PH).attr("fill", "#D9D9D9");
  svg.append("text").attr("transform", `translate(${sx + STRIP / 2},${rowTop(i) + PH / 2}) rotate(90)`)
    .attr("dy", "0.36em").attr("text-anchor", "middle").attr("font-family", SANS).attr("font-size", AXFS)
    .attr("fill", "#1A1A1A").text(variables[i]);
}

// axes
function styleAxis(ax, dy) {
  ax.select(".domain").remove();
  ax.selectAll(".tick line").attr("stroke", "#333333").attr("stroke-width", 4.4);
  ax.selectAll(".tick text").attr("fill", "#4D4D4D").attr("font-family", SANS).attr("font-size", AXFS).attr("dy", dy);
}
for (let i = 0; i < 6; i++) {
  const ys = (i === 0) ? yScaleDiag(0) : yScaleVar(i);
  const vals = (i === 0) ? row1TickValues : xBreaks[i];
  const labs = (i === 0) ? row1TickLabels : xTickLabels[i];
  const ax = svg.append("g").attr("transform", `translate(${LEFT},0)`)
    .call(d3.axisLeft(ys).tickValues(vals).tickFormat((d, k) => labs[k]).tickSize(11.5).tickPadding(9.2).tickSizeOuter(0));
  styleAxis(ax, "0.36em");
}
for (let j = 0; j < 6; j++) {
  const xs = xScale(j);
  const ax = svg.append("g").attr("transform", `translate(0,${rowTop(5) + PH})`)
    .call(d3.axisBottom(xs).tickValues(xBreaks[j]).tickFormat((d, k) => xTickLabels[j][k]).tickSize(11.5).tickPadding(9.2).tickSizeOuter(0));
  styleAxis(ax, "0.74em");
}
</script>
</body></html>
